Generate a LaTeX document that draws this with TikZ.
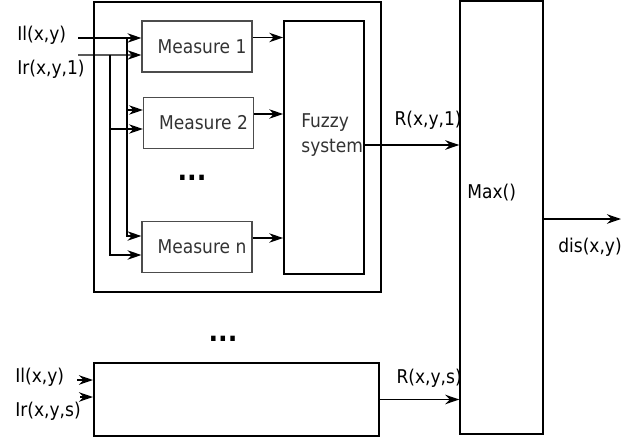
\documentclass[tikz,border=0pt]{standalone}
\usepackage{fontspec}
\setmainfont{DejaVu Sans Condensed}
\usetikzlibrary{arrows.meta,positioning,calc}
\begin{document}
\begin{tikzpicture}[x=.02cm,y=-.02cm,>={Stealth[length=2.8mm,width=1.9mm]},
  font=\fontsize{10.8}{14.2}\selectfont,every node/.style={inner sep=0pt},
  box/.style={draw},
  meas/.style={box,draw=black!70,line width=.7pt,minimum width=2.2cm,minimum height=1.02cm,text=black!80},
  wire/.style={line width=.85pt,->},
  dots/.style={font=\fontsize{16}{16}\selectfont\bfseries}]
\useasboundingbox (0,0) rectangle (622,443);
% first stage: measures and fuzzy system
\node[box,line width=1.2pt,minimum width=5.74cm,minimum height=5.8cm] (grp) at (237.5,147) {};
\node[meas] (m1) at (197,46.5) {\hspace*{.2cm}Measure 1};
\node[meas] (m2) at (198.5,123) {\hspace*{.2cm}Measure 2};
\node[meas] (mn) at (197,247) {\hspace*{.2cm}Measure n};
\node[dots] (dots1) at (192,178) {...};
\node[box,line width=1pt,minimum width=1.6cm,minimum height=5.06cm] (fz) at (324,147.5) {};
\node[anchor=west,align=left,text=black!80] (fzl) at (301,135.5) {Fuzzy\\system};
\foreach \m/\a/\b in {m1/-8.5/8.5,m2/-13/6,mn/-11/8}{
  \coordinate (\m a) at ($(\m.west)+(0,\a)$);\coordinate (\m b) at ($(\m.west)+(0,\b)$);
  \draw[wire] ($(\m.east)+(0,-9)$) coordinate (\m o) -- (\m o -| fz.west);}
% inputs
\node[anchor=west] (il) at (17,35) {Il(x,y)};
\node[anchor=west] (ir) at (17,69) {Ir(x,y,1)};
\coordinate (ila) at (78,38);\coordinate (ira) at (78,55);
\coordinate (ja) at (127,38);\coordinate (jb) at (110,55);
\draw[wire] (ila) -- (m1a);\draw[wire] (ira) -- (m1b);
\draw[wire] (ja) |- (mna);\draw[wire] (jb) |- (mnb);
\draw[wire] (ja |- m2a) -- (m2a);\draw[wire] (jb |- m2b) -- (m2b);
% max
\node[box,line width=.85pt,minimum width=1.66cm,minimum height=8.66cm] (mx) at (501.5,217.5) {};
\node[anchor=west] (mxl) at (467,193) {Max()};
\draw[wire] ($(fz.east)+(0,-2.5)$) coordinate (fo) -- (fo -| mx.west);
\node[anchor=east] (r1) at (462,120) {R(x,y,1)};
\coordinate (out) at (621,219);
\draw[wire] (out -| mx.east) -- (out);
\node (dis) at (590,247) {dis(x,y)};
% last stage
\node[dots] (dots2) at (223,339) {...};
\node[box,line width=1.2pt,minimum width=5.7cm,minimum height=1.46cm] (bot) at (236.5,399.5) {};
\node[anchor=west] (il2) at (15,377) {Il(x,y)};
\node[anchor=west] (ir2) at (15,411) {Ir(x,y,s)};
\coordinate (ilb) at (77,380);\coordinate (irb) at (80,397);
\draw[wire] (ilb) -- (ilb -| bot.west);\draw[wire] (irb) -- (irb -| bot.west);
\draw[wire] (bot.east) -- (bot.east -| mx.west);
\node[anchor=east] (rs) at (462,378) {R(x,y,s)};
\end{tikzpicture}
\end{document}
